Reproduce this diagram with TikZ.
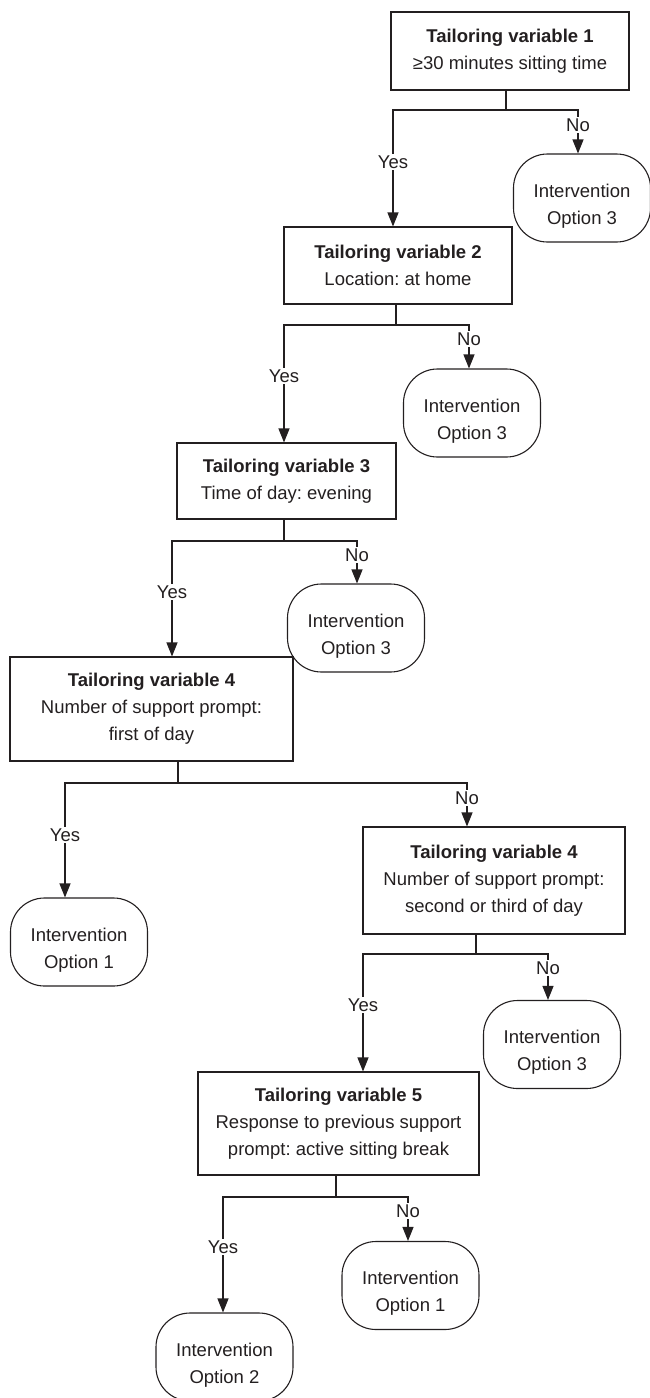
\documentclass[tikz,border=0pt]{standalone}
\usepackage{fontspec}
\setmainfont{Liberation Sans}
\usetikzlibrary{arrows.meta}
\definecolor{ink}{RGB}{35,31,32}
\frenchspacing
\begin{document}
\begin{tikzpicture}[x=1pt,y=-1pt, line width=1.1pt, draw=ink, text=ink,
  box/.style={draw, align=center, font=\fontsize{18.5}{27}\selectfont, inner sep=0pt},
  term/.style={draw, rounded corners=34pt, minimum width=137pt, minimum height=88pt, inner sep=0pt},
  ttext/.style={align=center, font=\fontsize{18.5}{27}\selectfont, inner sep=0pt},
  lbl/.style={fill=white, inner sep=1.5pt, font=\fontsize{18.5}{22}\selectfont},
  arr/.style={-{Triangle[length=14pt,width=11pt]}}]
\useasboundingbox (0,0) rectangle (649,1398);

% decision boxes
\node[box, minimum width=238pt, minimum height=78pt] (b1) at (510,51)
  {\textbf{Tailoring variable 1}\\≥30 minutes sitting time};
\node[box, minimum width=228pt, minimum height=77pt] (b2) at (398,265.5)
  {\textbf{Tailoring variable 2}\\Location: at home};
\node[box, minimum width=219pt, minimum height=76pt] (b3) at (286.5,481)
  {\textbf{Tailoring variable 3}\\Time of day: evening};
\node[box, minimum width=283pt, minimum height=104pt] (b4) at (151.5,709)
  {\textbf{Tailoring variable 4}\\Number of support prompt:\\first of day};
\node[box, minimum width=262pt, minimum height=107pt] (b4b) at (494,880.5)
  {\textbf{Tailoring variable 4}\\Number of support prompt:\\second or third of day};
\node[box, minimum width=281pt, minimum height=103pt] (b5) at (338.5,1123.5)
  {\textbf{Tailoring variable 5}\\Response to previous support\\prompt: active sitting break};

% terminals
\node[term] (t1) at (582,198) {};
\node[term] (t2) at (472,413) {};
\node[term] (t3) at (356,628) {};
\node[term] (t4) at (79,942) {};
\node[term] (t5) at (552,1044.5) {};
\node[term] (t6) at (410.5,1285.5) {};
\node[term] (t7) at (224.5,1357) {};
\node[ttext] (t1x) at ([yshift=-8pt]t1.center) {Intervention\\Option 3};
\node[ttext] (t2x) at ([yshift=-8pt]t2.center) {Intervention\\Option 3};
\node[ttext] (t3x) at ([yshift=-8pt]t3.center) {Intervention\\Option 3};
\node[ttext] (t4x) at ([yshift=-8pt]t4.center) {Intervention\\Option 1};
\node[ttext] (t5x) at ([yshift=-8pt]t5.center) {Intervention\\Option 3};
\node[ttext] (t6x) at ([yshift=-8pt]t6.center) {Intervention\\Option 1};
\node[ttext] (t7x) at ([yshift=-8pt]t7.center) {Intervention\\Option 2};

% junctions
\coordinate (j1) at (506,110);
\coordinate (j2) at (396,325);
\coordinate (j3) at (284,541);
\coordinate (j4) at (178,783);
\coordinate (j4b) at (476,954);
\coordinate (j5) at (336,1197);

% connectors
\draw (b1.south -| j1) -- (j1);
\draw[arr] (j1) -| (b2.north -| 393,0);
\draw[arr] (j1) -| (t1.north -| 578,0);
\draw (b2.south -| j2) -- (j2);
\draw[arr] (j2) -| (b3.north -| 284,0);
\draw[arr] (j2) -| (t2.north -| 469,0);
\draw (b3.south -| j3) -- (j3);
\draw[arr] (j3) -| (b4.north -| 172,0);
\draw[arr] (j3) -| (t3.north -| 357,0);
\draw (b4.south -| j4) -- (j4);
\draw[arr] (j4) -| (t4.north -| 65,0);
\draw[arr] (j4) -| (b4b.north -| 467,0);
\draw (b4b.south -| j4b) -- (j4b);
\draw[arr] (j4b) -| (b5.north -| 363,0);
\draw[arr] (j4b) -| (t5.north -| 548,0);
\draw (b5.south -| j5) -- (j5);
\draw[arr] (j5) -| (t7.north -| 223,0);
\draw[arr] (j5) -| (t6.north -| 408,0);

% labels
\node[lbl] (y1) at (393,162) {Yes};
\node[lbl] (n1) at (578,125) {No};
\node[lbl] (y2) at (284,376) {Yes};
\node[lbl] (n2) at (469,339) {No};
\node[lbl] (y3) at (172,592) {Yes};
\node[lbl] (n3) at (357,555) {No};
\node[lbl] (y4) at (65,835) {Yes};
\node[lbl] (n4) at (467,798) {No};
\node[lbl] (y4b) at (363,1005) {Yes};
\node[lbl] (n4b) at (548,968) {No};
\node[lbl] (y5) at (223,1247) {Yes};
\node[lbl] (n5) at (408,1211) {No};
\end{tikzpicture}
\end{document}
